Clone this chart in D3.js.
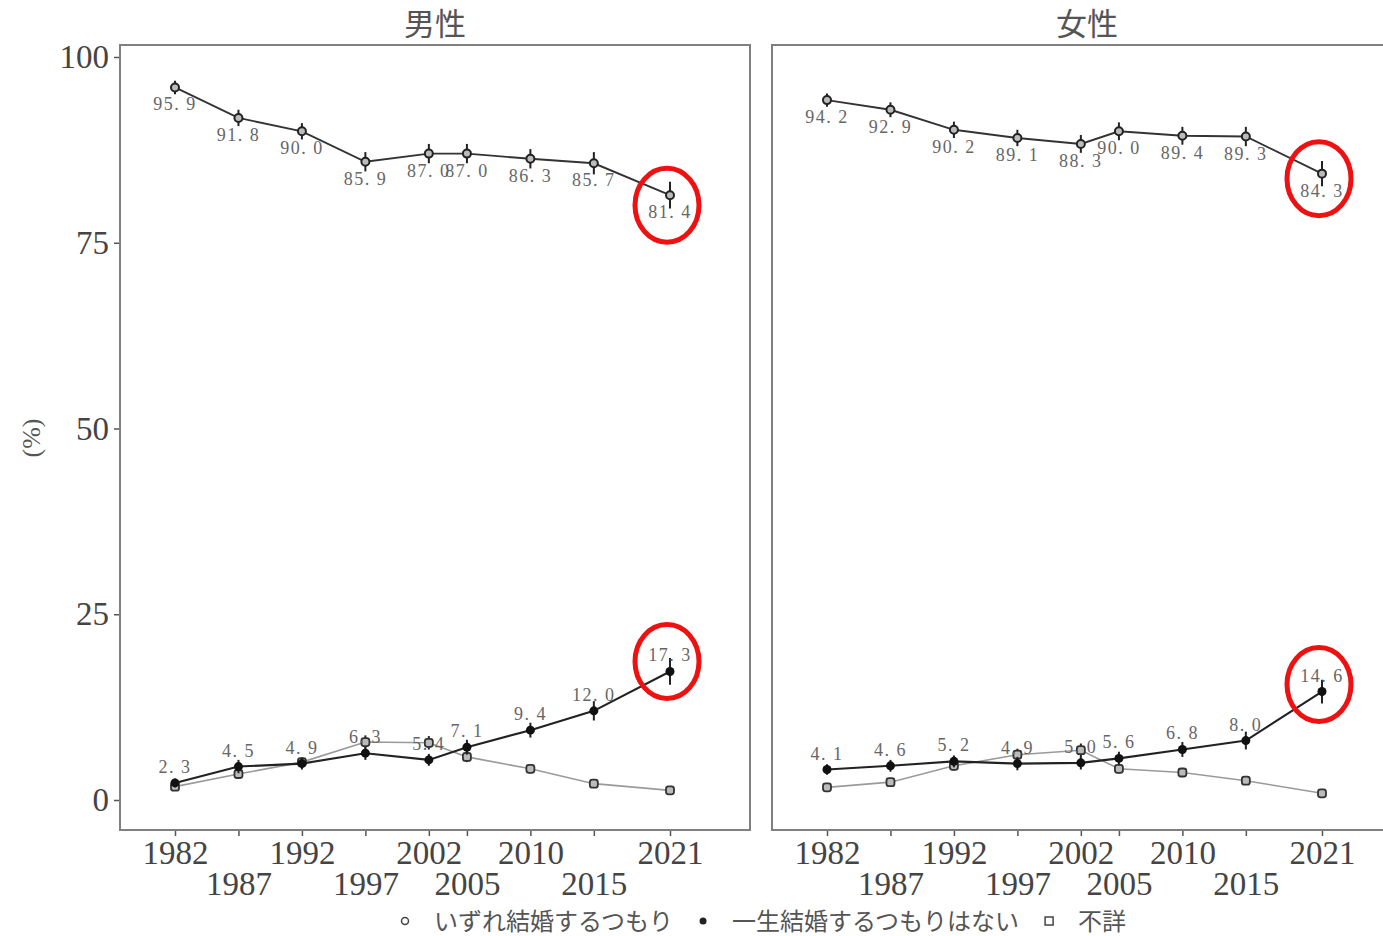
<!DOCTYPE html>
<html><head><meta charset="utf-8">
<script src="https://cdn.jsdelivr.net/npm/d3@7"></script>
<style>body{margin:0;background:#fff} svg{display:block}</style>
</head><body>
<svg id="chart" width="1383" height="936"></svg>
<script>
// Survey years and panel names
const years = [1982, 1987, 1992, 1997, 2002, 2005, 2010, 2015, 2021];
const panelNames = ["男性", "女性"];
const seriesNames = ["いずれ結婚するつもり", "一生結婚するつもりはない", "不詳"];
const yTicks = [0, 25, 50, 75, 100];

// Shares (%) by sex
const maleSomeday   = [95.9, 91.8, 90.0, 85.9, 87.0, 87.0, 86.3, 85.7, 81.4];
const maleNever     = [2.3, 4.5, 4.9, 6.3, 5.4, 7.1, 9.4, 12.0, 17.3];
const maleUnknown   = [1.8, 3.5, 5.1, 7.8, 7.7, 5.8, 4.2, 2.2, 1.3];
const femaleSomeday = [94.2, 92.9, 90.2, 89.1, 88.3, 90.0, 89.4, 89.3, 84.3];
const femaleNever   = [4.1, 4.6, 5.2, 4.9, 5.0, 5.6, 6.8, 8.0, 14.6];
const femaleUnknown = [1.7, 2.4, 4.6, 6.1, 6.7, 4.2, 3.7, 2.6, 0.9];

// Half-widths of the error bars (percentage points)
const maleSomedayErr   = [0.9, 1.1, 1.1, 1.3, 1.3, 1.3, 1.3, 1.5, 1.8];
const maleNeverErr     = [0.6, 0.9, 0.8, 0.9, 0.8, 1.0, 1.0, 1.3, 1.8];
const maleUnknownErr   = [0.3, 0.5, 0.6, 0.9, 0.9, 0.7, 0.4, 0.3, 0.3];
const femaleSomedayErr = [0.9, 1.0, 1.1, 1.1, 1.2, 1.2, 1.2, 1.3, 1.7];
const femaleNeverErr   = [0.7, 0.8, 0.8, 0.9, 0.9, 0.9, 1.0, 1.2, 1.6];
const femaleUnknownErr = [0.3, 0.4, 0.6, 0.8, 0.9, 0.6, 0.5, 0.4, 0.3];

const panelData = [
  { name: panelNames[0], series: [
      { key: "unknown", values: maleUnknown, err: maleUnknownErr },
      { key: "someday", values: maleSomeday, err: maleSomedayErr },
      { key: "never",   values: maleNever,   err: maleNeverErr } ],
    marks: [ { key: "someday", dy: 10 }, { key: "never", dy: -10 } ] },
  { name: panelNames[1], series: [
      { key: "unknown", values: femaleUnknown, err: femaleUnknownErr },
      { key: "someday", values: femaleSomeday, err: femaleSomedayErr },
      { key: "never",   values: femaleNever,   err: femaleNeverErr } ],
    marks: [ { key: "someday", dy: 5 }, { key: "never", dy: -7 } ] }
];

const svg = d3.select("#chart");
const serif = "'Liberation Serif','DejaVu Serif',serif";
const cjk = "'Noto Sans CJK JP','Noto Sans CJK SC',sans-serif";

const panelTop = 45, panelBottom = 830, panelW = 630;
const panelLefts = [120, 772];

const y = d3.scaleLinear().domain([0, 100]).range([800, 57]);
const x = d3.scaleLinear().domain([1982, 2021]).range([55, 550]);

const styles = {
  unknown: { line: "#9a9a9a", lw: 1.6 },
  someday: { line: "#333",    lw: 1.9 },
  never:   { line: "#222",    lw: 2.1 }
};

// value label, e.g. "95. 9"
const fmt = v => d3.format(".1f")(v).replace(".", ". ");

panelData.forEach((p, pi) => {
  const g = svg.append("g").attr("transform", `translate(${panelLefts[pi]},0)`);

  // panel title
  g.append("text")
    .attr("x", panelW / 2).attr("y", 35)
    .attr("text-anchor", "middle")
    .attr("font-family", cjk).attr("font-size", 31)
    .attr("fill", "#555")
    .text(p.name);

  // x axis
  const xa = g.append("g").attr("transform", `translate(0,${panelBottom})`)
    .call(d3.axisBottom(x).tickValues(years).tickFormat(d3.format("d")).tickSize(6));
  xa.select(".domain").remove();
  xa.selectAll(".tick line").attr("stroke", "#555").attr("stroke-width", 1.5);
  xa.selectAll(".tick text")
    .attr("font-family", serif).attr("font-size", 33).attr("fill", "#444")
    .attr("y", (d, i) => i % 2 === 0 ? 11 : 42);

  // y axis on the first panel only
  if (pi === 0) {
    const ya = g.append("g")
      .call(d3.axisLeft(y).tickValues(yTicks).tickSize(6).tickPadding(5));
    ya.select(".domain").remove();
    ya.selectAll(".tick line").attr("stroke", "#555").attr("stroke-width", 1.5);
    ya.selectAll(".tick text")
      .attr("font-family", serif).attr("font-size", 33).attr("fill", "#444");
  }

  // panel frame
  g.append("rect")
    .attr("x", 0).attr("y", panelTop)
    .attr("width", panelW).attr("height", panelBottom - panelTop)
    .attr("fill", "none").attr("stroke", "#808080").attr("stroke-width", 2);

  const line = d3.line().x(d => x(d.year)).y(d => y(d.v));

  p.series.forEach(s => {
    const pts = years.map((yr, i) => ({ year: yr, v: s.values[i], e: s.err[i] }));
    const st = styles[s.key];
    const sg = g.append("g");

    sg.append("path").datum(pts)
      .attr("d", line).attr("fill", "none")
      .attr("stroke", st.line).attr("stroke-width", st.lw);

    // error bars
    sg.selectAll("line.err").data(pts).join("line")
      .attr("class", "err")
      .attr("x1", d => x(d.year)).attr("x2", d => x(d.year))
      .attr("y1", d => y(d.v - d.e)).attr("y2", d => y(d.v + d.e))
      .attr("stroke", "#222").attr("stroke-width", 2);

    // point markers
    if (s.key === "someday") {
      sg.selectAll("circle").data(pts).join("circle")
        .attr("cx", d => x(d.year)).attr("cy", d => y(d.v)).attr("r", 4)
        .attr("fill", "#bbb").attr("stroke", "#222").attr("stroke-width", 2);
    } else if (s.key === "never") {
      sg.selectAll("circle").data(pts).join("circle")
        .attr("cx", d => x(d.year)).attr("cy", d => y(d.v)).attr("r", 4.5)
        .attr("fill", "#111");
    } else {
      sg.selectAll("rect").data(pts).join("rect")
        .attr("x", d => x(d.year) - 4).attr("y", d => y(d.v) - 4)
        .attr("width", 8).attr("height", 8).attr("rx", 2.5)
        .attr("fill", "#bbb").attr("stroke", "#333").attr("stroke-width", 1.8);
    }

    // value labels
    if (s.key !== "unknown") {
      const below = s.key === "someday";
      sg.selectAll("text").data(pts).join("text")
        .attr("x", d => x(d.year)).attr("y", d => y(d.v) + (below ? 23 : -10))
        .attr("text-anchor", "middle")
        .attr("font-family", serif).attr("font-size", 18)
        .attr("letter-spacing", 1.5)
        .attr("fill", "#666")
        .text(d => fmt(d.v));
    }
  });

  // highlight rings around the latest survey
  p.marks.forEach(m => {
    const s = p.series.find(d => d.key === m.key);
    const last = years.length - 1;
    g.append("ellipse")
      .attr("cx", x(years[last]) - 3)
      .attr("cy", y(s.values[last]) + m.dy)
      .attr("rx", 32).attr("ry", 37)
      .attr("fill", "none").attr("stroke", "#ee1111").attr("stroke-width", 5);
  });
});

// y axis title
svg.append("text")
  .attr("transform", "translate(40,438) rotate(-90)")
  .attr("text-anchor", "middle")
  .attr("font-family", serif).attr("font-size", 26).attr("fill", "#555")
  .text("(%)");

// legend
const legend = svg.append("g").attr("transform", "translate(0,921)");
let cursor = 405;
seriesNames.forEach((name, i) => {
  const item = legend.append("g");
  if (i === 0) {
    item.append("circle").attr("cx", cursor).attr("cy", 0).attr("r", 3.5)
      .attr("fill", "#fff").attr("stroke", "#444").attr("stroke-width", 1.5);
  } else if (i === 1) {
    item.append("circle").attr("cx", cursor).attr("cy", 0).attr("r", 3.5).attr("fill", "#222");
  } else {
    item.append("rect").attr("x", cursor - 4).attr("y", -4).attr("width", 8).attr("height", 8)
      .attr("fill", "#fff").attr("stroke", "#444").attr("stroke-width", 1.5);
  }
  const t = item.append("text")
    .attr("x", cursor + 29).attr("y", 0).attr("dy", "0.36em")
    .attr("font-family", cjk).attr("font-size", 24).attr("fill", "#555")
    .text(name);
  cursor = cursor + 29 + t.node().getComputedTextLength() + 30;
});
</script>
</body></html>
